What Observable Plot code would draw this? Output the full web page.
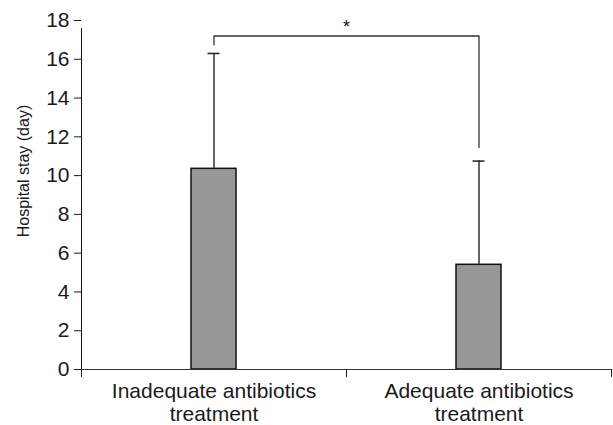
<!DOCTYPE html>
<html>
<head>
<meta charset="utf-8">
<script src="https://cdn.jsdelivr.net/npm/d3@7"></script>
<script src="https://cdn.jsdelivr.net/npm/@observablehq/plot@0.6"></script>
<style>
  html, body { margin: 0; padding: 0; background: #fff; }
  #chart { width: 613px; height: 425px; }
</style>
</head>
<body>
<div id="chart"></div>
<script>
// ---- Data ----
const categories = ["Inadequate antibiotics\ntreatment", "Adequate antibiotics\ntreatment"];
const meanStay = [10.35, 5.4];      // bar heights (days)
const sdStay = [5.95, 5.35];        // upper error bar lengths (days)
const yTicks = [0, 2, 4, 6, 8, 10, 12, 14, 16, 18];
const yLabel = "Hospital stay (day)";
// significance bracket
const bracketLevel = 17.2;
const bracketLegEnds = [16.75, 11.45];
const sigLabel = "*";

const data = categories.map((c, i) => ({
  category: c, i, mean: meanStay[i], sd: sdStay[i], top: meanStay[i] + sdStay[i]
}));

const bracket = [
  {x: 0.5, y: bracketLegEnds[0]},
  {x: 0.5, y: bracketLevel},
  {x: 1.5, y: bracketLevel},
  {x: 1.5, y: bracketLegEnds[1]}
];

const chart = Plot.plot({
  width: 613,
  height: 425,
  marginLeft: 81,
  marginRight: 2,
  marginTop: 20,
  marginBottom: 56,
  style: {fontFamily: "'Liberation Sans', Arial, sans-serif", fontSize: "16px", color: "#1a1a1a", background: "#fff"},
  x: {domain: [0, categories.length], axis: null},
  y: {domain: [0, 18], axis: null},
  marks: [
    // bars
    Plot.rectY(data, {x1: "i", x2: d => d.i + 1, y1: 0, y2: "mean",
      insetLeft: 110, insetRight: 110, fill: "#979797", stroke: "#111", strokeWidth: 1.5}),
    // error bar stems
    Plot.ruleX(data, {x: d => d.i + 0.5, y1: "mean", y2: "top", stroke: "#333", strokeWidth: 1.5}),
    // error bar caps
    Plot.ruleY(data, {y: "top", x1: d => d.i + 0.5, x2: d => d.i + 0.5,
      insetLeft: -6, insetRight: -6, stroke: "#222", strokeWidth: 1.5}),
    // significance bracket
    Plot.line(bracket, {x: "x", y: "y", stroke: "#333", strokeWidth: 1.3}),
    Plot.text([sigLabel], {x: 1, y: bracketLevel, dy: -3, lineAnchor: "bottom",
      fontSize: 18, fill: "#111"}),
    // y axis
    Plot.ruleX([0], {y1: 0, y2: 18, insetBottom: -8, stroke: "#111"}),
    Plot.axisY({ticks: yTicks, tickSize: 7, tickFormat: () => "", label: null}),
    Plot.text(yTicks, {frameAnchor: "left", y: d => d, text: d => String(d),
      textAnchor: "end", dx: -12, fontSize: 21}),
    Plot.text([yLabel], {frameAnchor: "left", textAnchor: "middle", rotate: -90,
      dx: -58, dy: -24, fontSize: 16}),
    // x axis
    Plot.ruleY([0], {stroke: "#333"}),
    Plot.axisX({ticks: d3.range(0, categories.length + 1), tickFormat: () => "",
      tickSize: 8, label: null}),
    Plot.text(data, {x: d => d.i + 0.5, frameAnchor: "bottom", text: "category",
      lineAnchor: "top", dy: 13, fontSize: 21, lineHeight: 1.07})
  ]
});

document.getElementById("chart").appendChild(chart);
</script>
</body>
</html>
